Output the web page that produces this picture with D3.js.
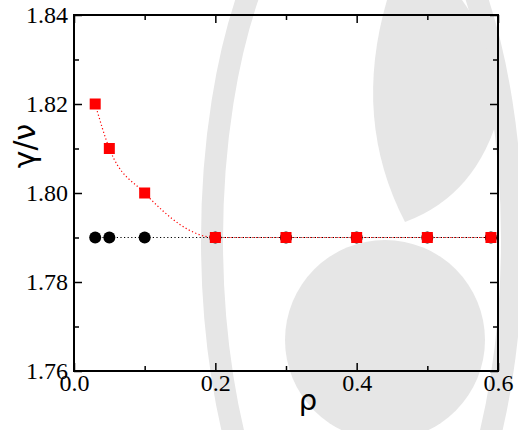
<!DOCTYPE html>
<html>
<head>
<meta charset="utf-8">
<script src="https://cdn.jsdelivr.net/npm/d3@7"></script>
<style>
body { margin: 0; background: #fff; }
</style>
</head>
<body>
<div id="chart"></div>
<script>
// data
var rho = [0.03, 0.05, 0.1, 0.2, 0.3, 0.4, 0.5, 0.59]
var blackVals = [1.79, 1.79, 1.79, 1.79, 1.79, 1.79, 1.79, 1.79]
var redVals = [1.82, 1.81, 1.80, 1.79, 1.79, 1.79, 1.79, 1.79]
var xMajor = [0.0, 0.2, 0.4, 0.6]
var xMinor = [0.1, 0.3, 0.5]
var yMajor = [1.76, 1.78, 1.80, 1.82, 1.84]
var yMinor = [1.77, 1.79, 1.81, 1.83]

var W = 518, H = 430
var pLeft = 74, pRight = 498, pTop = 15, pBottom = 371

var svg = d3.select("#chart").append("svg")
    .attr("width", W).attr("height", H)

// faint watermark in the background
var wm = svg.append("g").attr("id", "watermark")
var gray = "#e6e6e6"
wm.append("ellipse")
    .attr("cx", 362).attr("cy", 240).attr("rx", 150).attr("ry", 375)
    .style("fill", "none").style("stroke", gray).style("stroke-width", 22)
wm.append("path")
    .attr("d", "M387,0 Q352,120 405,222 Q478,195 500,110 Q492,40 462,0 Z")
    .style("fill", gray)
wm.append("circle")
    .attr("cx", 385).attr("cy", 340).attr("r", 100)
    .style("fill", gray)

var x = d3.scaleLinear().domain([0, 0.6]).range([pLeft, pRight])
var y = d3.scaleLinear().domain([1.76, 1.84]).range([pBottom, pTop])

var fmt = d3.format(".1f"), yfmt = d3.format(".2f")
var tickFont = "Liberation Serif"

function styleAxis(g) {
    g.attr("font-family", tickFont).attr("font-size", 24)
    g.select(".domain").remove()
    g.selectAll("line").attr("stroke", "#000").attr("stroke-width", 1.5)
    g.selectAll("text").attr("fill", "#000")
}

// bottom
svg.append("g").attr("transform", "translate(0," + pBottom + ")")
    .call(d3.axisBottom(x).tickValues(xMajor).tickFormat(fmt).tickSize(-8).tickPadding(3))
    .call(styleAxis)
svg.append("g").attr("transform", "translate(0," + pBottom + ")")
    .call(d3.axisBottom(x).tickValues(xMinor).tickFormat("").tickSize(-5))
    .call(styleAxis)
// top
svg.append("g").attr("transform", "translate(0," + pTop + ")")
    .call(d3.axisTop(x).tickValues(xMajor).tickFormat("").tickSize(-8))
    .call(styleAxis)
svg.append("g").attr("transform", "translate(0," + pTop + ")")
    .call(d3.axisTop(x).tickValues(xMinor).tickFormat("").tickSize(-5))
    .call(styleAxis)
// left
svg.append("g").attr("transform", "translate(" + pLeft + ",0)")
    .call(d3.axisLeft(y).tickValues(yMajor).tickFormat(yfmt).tickSize(-8).tickPadding(6))
    .call(styleAxis)
svg.append("g").attr("transform", "translate(" + pLeft + ",0)")
    .call(d3.axisLeft(y).tickValues(yMinor).tickFormat("").tickSize(-5))
    .call(styleAxis)
// right
svg.append("g").attr("transform", "translate(" + pRight + ",0)")
    .call(d3.axisRight(y).tickValues(yMajor).tickFormat("").tickSize(-8))
    .call(styleAxis)
svg.append("g").attr("transform", "translate(" + pRight + ",0)")
    .call(d3.axisRight(y).tickValues(yMinor).tickFormat("").tickSize(-5))
    .call(styleAxis)

// frame
svg.append("rect")
    .attr("x", pLeft).attr("y", pTop)
    .attr("width", pRight - pLeft).attr("height", pBottom - pTop)
    .style("fill", "none").style("stroke", "#000").style("stroke-width", 2)

// axis titles
svg.append("text")
    .attr("x", 308).attr("y", 410)
    .attr("text-anchor", "middle")
    .style("font-family", "'DejaVu Sans', sans-serif").style("font-size", "29px")
    .text("ρ")
svg.append("text")
    .attr("transform", "translate(35,146) rotate(-90)")
    .attr("text-anchor", "middle")
    .style("font-family", "'DejaVu Sans', sans-serif").style("font-size", "30px")
    .text("γ/ν")

var black = rho.map(function(d, i) { return [d, blackVals[i]] })
var red = rho.map(function(d, i) { return [d, redVals[i]] })

// black series
svg.append("path")
    .attr("d", d3.line().x(function(d) { return x(d[0]) }).y(function(d) { return y(d[1]) })(black))
    .style("fill", "none").style("stroke", "#000").style("stroke-width", 1.2)
    .style("stroke-dasharray", "1.2,2.4")
svg.selectAll(".blk").data(black).enter().append("circle")
    .attr("class", "blk")
    .attr("cx", function(d) { return x(d[0]) })
    .attr("cy", function(d) { return y(d[1]) })
    .attr("r", 6)
    .style("fill", "#000")

// red series
svg.append("path")
    .attr("d", d3.line().curve(d3.curveMonotoneX)
        .x(function(d) { return x(d[0]) }).y(function(d) { return y(d[1]) })(red))
    .style("fill", "none").style("stroke", "#ff0000").style("stroke-width", 1.2)
    .style("stroke-dasharray", "1.2,2.4")
svg.selectAll(".sq").data(red).enter().append("rect")
    .attr("class", "sq")
    .attr("x", function(d) { return x(d[0]) - 5.5 })
    .attr("y", function(d) { return y(d[1]) - 5.5 })
    .attr("width", 11).attr("height", 11)
    .style("fill", "#ff0000")
</script>
</body>
</html>
